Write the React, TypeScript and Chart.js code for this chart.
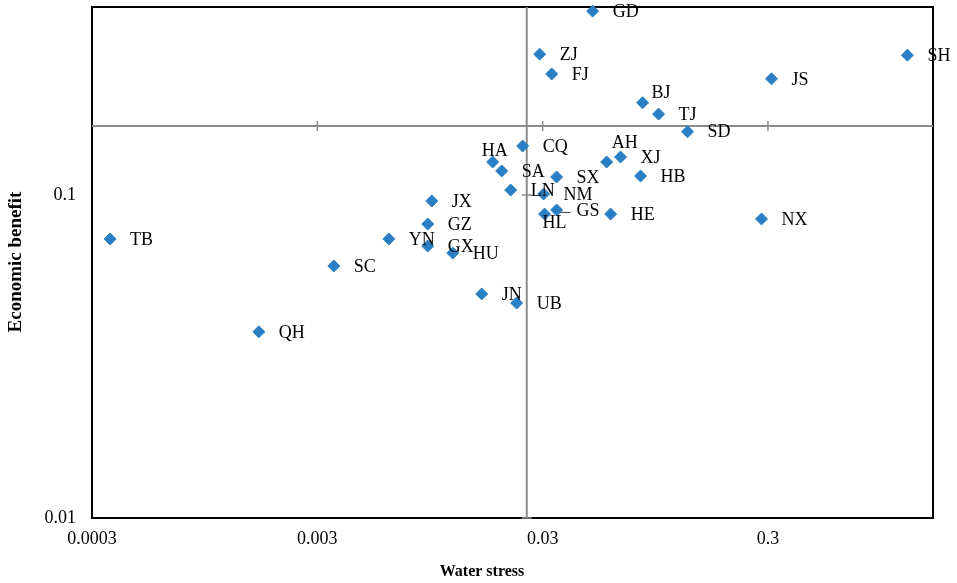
import React, { useEffect, useRef } from 'react';
import { Chart, registerables } from 'chart.js';

Chart.register(...registerables);

// ---- Data ----
const provinces = ['GD', 'ZJ', 'FJ', 'BJ', 'TJ', 'SD', 'SH', 'JS', 'CQ', 'HA', 'SA', 'AH', 'XJ', 'SX', 'HB', 'LN', 'NM', 'GS', 'HL', 'HE', 'NX', 'JX', 'GZ', 'YN', 'GX', 'HU', 'SC', 'TB', 'QH', 'JN', 'UB'];
const waterStress = [0.05, 0.0291, 0.0329, 0.0833, 0.0981, 0.1319, 1.247, 0.311, 0.02446, 0.018, 0.01974, 0.0577, 0.0665, 0.0346, 0.0816, 0.02164, 0.0303, 0.0346, 0.0306, 0.0601, 0.2808, 0.00966, 0.00927, 0.00623, 0.00927, 0.01197, 0.00355, 0.000361, 0.00165, 0.01609, 0.023];
const economicBenefit = [0.371, 0.273, 0.237, 0.193, 0.178, 0.157, 0.271, 0.229, 0.1418, 0.1265, 0.1187, 0.1265, 0.1311, 0.1137, 0.1145, 0.1036, 0.1007, 0.0899, 0.0873, 0.0873, 0.0843, 0.0958, 0.0813, 0.0731, 0.0695, 0.0661, 0.0603, 0.0731, 0.0377, 0.0494, 0.0463];

const xTickValues = [0.0003, 0.003, 0.03, 0.3];
const xTickLabels = ['0.0003', '0.003', '0.03', '0.3'];
const yTickValues = [0.01, 0.1];
const yTickLabels = ['0.01', '0.1'];

const xMin = 0.0003;
const xMax = 1.62;
const yMin = 0.01;
const yMax = 0.382;

// crossing reference lines (axis cross values)
const crossX = 0.0255;
const crossY = 0.1635;

const xTitle = 'Water stress';
const yTitle = 'Economic benefit';

// ---- Layout / style (label placement offsets in px) ----
const defaultLabelOffset: [number, number] = [20, 1];
const labelOffsets: Record<string, [number, number]> = {
  HA: [-11, -11],
  AH: [5, -19],
  BJ: [9, -10],
  HL: [-2, 9],
};
const leaderLines = ['GS'];

const SERIF = '"Liberation Serif", "Times New Roman", serif';
const POINT_COLOR = '#2A7FC4';

const overlayPlugin = {
  id: 'overlay',
  beforeDatasetsDraw(chart: any) {
    const { ctx, chartArea: a, scales } = chart;
    const x = scales.x;
    const y = scales.y;
    ctx.save();
    // black frame
    ctx.strokeStyle = '#000';
    ctx.lineWidth = 2;
    ctx.strokeRect(a.left, a.top, a.right - a.left, a.bottom - a.top);
    // gray crossing lines
    const cx = x.getPixelForValue(crossX);
    const cy = y.getPixelForValue(crossY);
    ctx.strokeStyle = '#8c8c8c';
    ctx.lineWidth = 2;
    ctx.beginPath();
    ctx.moveTo(a.left, cy);
    ctx.lineTo(a.right, cy);
    ctx.moveTo(cx, a.top);
    ctx.lineTo(cx, a.bottom);
    ctx.stroke();
    ctx.lineWidth = 1.5;
    ctx.beginPath();
    xTickValues.forEach((v) => {
      const px = x.getPixelForValue(v);
      if (px > a.left + 2) {
        ctx.moveTo(px, cy - 5);
        ctx.lineTo(px, cy + 5);
      }
    });
    yTickValues.forEach((v) => {
      const py = y.getPixelForValue(v);
      ctx.moveTo(cx - 5, py);
      ctx.lineTo(cx + 5, py);
    });
    ctx.stroke();
    // leader lines
    ctx.strokeStyle = '#404040';
    ctx.lineWidth = 1;
    ctx.beginPath();
    provinces.forEach((name, i) => {
      if (!leaderLines.includes(name)) return;
      const px = x.getPixelForValue(waterStress[i]);
      const py = y.getPixelForValue(economicBenefit[i]);
      ctx.moveTo(px + 1, py + 2.5);
      ctx.lineTo(px + 14, py + 2.5);
    });
    ctx.stroke();
    ctx.restore();
  },
  afterDatasetsDraw(chart: any) {
    const { ctx, scales } = chart;
    const x = scales.x;
    const y = scales.y;
    ctx.save();
    ctx.fillStyle = '#000';
    ctx.font = `18px ${SERIF}`;
    ctx.textAlign = 'left';
    ctx.textBaseline = 'middle';
    provinces.forEach((name, i) => {
      const px = x.getPixelForValue(waterStress[i]);
      const py = y.getPixelForValue(economicBenefit[i]);
      const off = labelOffsets[name] || defaultLabelOffset;
      ctx.fillText(name, px + off[0], py + off[1]);
    });
    // axis titles
    ctx.font = `bold 16px ${SERIF}`;
    ctx.textAlign = 'center';
    ctx.fillText(xTitle, 482, 572);
    ctx.font = `bold 19px ${SERIF}`;
    ctx.translate(16, 262);
    ctx.rotate(-Math.PI / 2);
    ctx.fillText(yTitle, 0, 0);
    ctx.restore();
  },
};

export default function App() {
  const canvasRef = useRef<HTMLCanvasElement | null>(null);

  useEffect(() => {
    const canvas = canvasRef.current;
    if (!canvas) return;
    const chart = new Chart(canvas, {
      type: 'scatter',
      data: {
        datasets: [
          {
            data: provinces.map((_, i) => ({ x: waterStress[i], y: economicBenefit[i] })),
            pointStyle: 'rectRot',
            pointRadius: 6,
            pointHoverRadius: 6,
            borderWidth: 1,
            backgroundColor: POINT_COLOR,
            borderColor: POINT_COLOR,
            clip: false,
          } as any,
        ],
      },
      options: {
        responsive: false,
        animation: false,
        devicePixelRatio: 1,
        layout: { padding: { top: 7, right: 24, left: 0, bottom: 0 } },
        plugins: {
          legend: { display: false },
          tooltip: { enabled: false },
        },
        scales: {
          x: {
            type: 'logarithmic',
            min: xMin,
            max: xMax,
            grid: { display: false, drawTicks: false },
            border: { display: false },
            afterBuildTicks: (s: any) => {
              s.ticks = xTickValues.map((v) => ({ value: v }));
            },
            afterFit: (s: any) => {
              s.height = 65;
              s.paddingLeft = 0;
              s.paddingRight = 0;
            },
            ticks: {
              autoSkip: false,
              maxRotation: 0,
              padding: 10,
              color: '#000',
              font: { family: SERIF, size: 18 },
              callback: (v: any) => {
                const idx = xTickValues.findIndex((t) => Math.abs(t - v) / t < 1e-6);
                return idx >= 0 ? xTickLabels[idx] : '';
              },
            },
          },
          y: {
            type: 'logarithmic',
            min: yMin,
            max: yMax,
            grid: { display: false, drawTicks: false },
            border: { display: false },
            afterBuildTicks: (s: any) => {
              s.ticks = yTickValues.map((v) => ({ value: v }));
            },
            afterFit: (s: any) => {
              s.width = 92;
              s.paddingTop = 0;
              s.paddingBottom = 0;
            },
            ticks: {
              autoSkip: false,
              padding: 16,
              color: '#000',
              font: { family: SERIF, size: 18 },
              callback: (v: any) => {
                const idx = yTickValues.findIndex((t) => Math.abs(t - v) / t < 1e-6);
                return idx >= 0 ? yTickLabels[idx] : '';
              },
            },
          },
        },
      },
      plugins: [overlayPlugin],
    });
    return () => chart.destroy();
  }, []);

  return (
    <div style={{ position: 'fixed', left: 0, top: 0, width: 957, height: 583, background: '#fff' }}>
      <canvas ref={canvasRef} width={957} height={583} style={{ width: 957, height: 583, display: 'block' }} />
    </div>
  );
}
